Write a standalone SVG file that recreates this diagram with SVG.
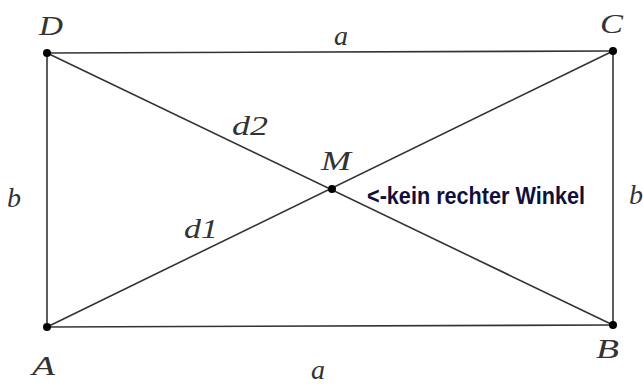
<svg xmlns="http://www.w3.org/2000/svg" width="643" height="385" viewBox="0 0 643 385">
<style>
.e{stroke:#333;stroke-width:1.6;fill:none}
.p{fill:#000}
.l{font-family:"Liberation Serif",serif;font-style:italic;font-size:28px;fill:#333}
.n{font-family:"Liberation Sans",sans-serif;font-weight:bold;font-size:23px;fill:#10103a}
</style>
<rect width="643" height="385" fill="#fff"/>
<g id="edges">
<line class="e" x1="47" y1="53" x2="613" y2="51"/>
<line class="e" x1="47" y1="327" x2="613" y2="325"/>
<line class="e" x1="47" y1="53" x2="47" y2="327"/>
<line class="e" x1="613" y1="51" x2="613" y2="325"/>
<line class="e" x1="47" y1="327" x2="613" y2="51"/>
<line class="e" x1="47" y1="53" x2="613" y2="325"/>
</g>
<g id="D"><circle class="p" cx="47" cy="53" r="4"/><text class="l" x="39" y="35" textLength="24" lengthAdjust="spacingAndGlyphs">D</text></g>
<g id="C"><circle class="p" cx="613" cy="51" r="4"/><text class="l" x="600" y="33" textLength="23" lengthAdjust="spacingAndGlyphs">C</text></g>
<g id="A"><circle class="p" cx="47" cy="327" r="4"/><text class="l" x="32" y="375" textLength="23" lengthAdjust="spacingAndGlyphs">A</text></g>
<g id="B"><circle class="p" cx="613" cy="325" r="4"/><text class="l" x="596" y="358" textLength="23" lengthAdjust="spacingAndGlyphs">B</text></g>
<g id="M"><circle class="p" cx="332" cy="189" r="4"/><text class="l" x="321" y="170" textLength="30" lengthAdjust="spacingAndGlyphs">M</text></g>
<g id="labels">
<text class="l" x="334" y="45">a</text>
<text class="l" x="311" y="379">a</text>
<text class="l" x="7" y="207">b</text>
<text class="l" x="629" y="204">b</text>
<text class="l" x="232" y="135" textLength="36" lengthAdjust="spacingAndGlyphs">d2</text>
<text class="l" x="184" y="238" textLength="34" lengthAdjust="spacingAndGlyphs">d1</text>
<text class="n" x="367" y="204" textLength="218" lengthAdjust="spacingAndGlyphs">&lt;-kein rechter Winkel</text>
</g>
</svg>
